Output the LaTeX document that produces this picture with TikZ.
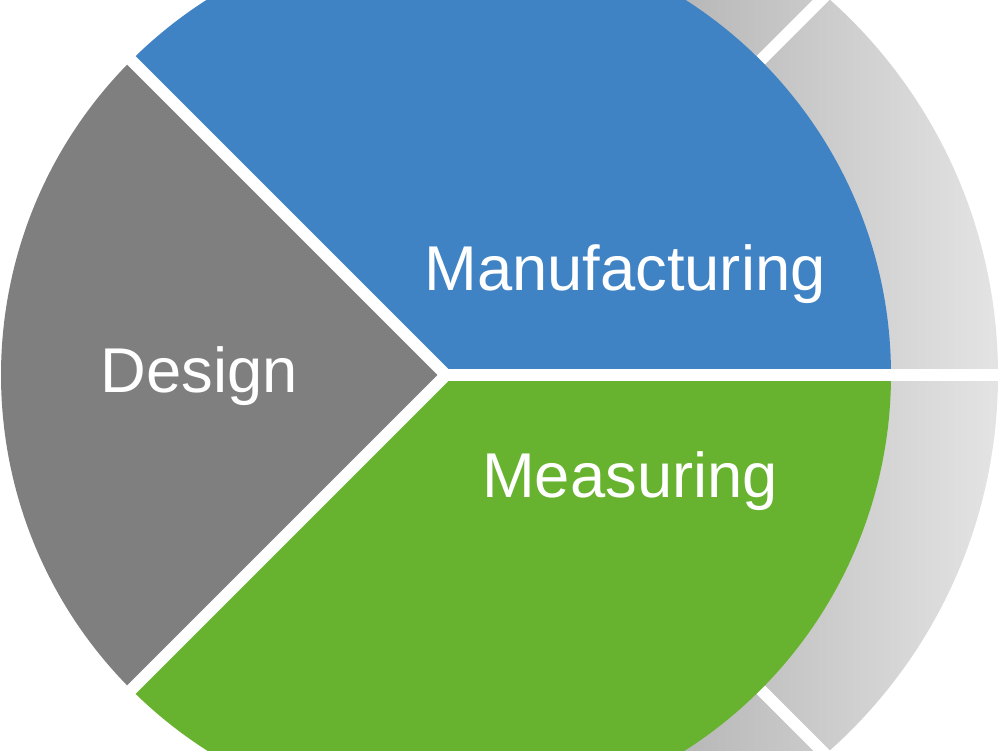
\documentclass[tikz,border=0pt]{standalone}
\usepackage{fontspec}
\setmainfont{Liberation Sans}
\usepackage{xcolor}
\definecolor{designgray}{HTML}{7F7F80}
\definecolor{manublue}{HTML}{3F83C5}
\definecolor{measgreen}{HTML}{67B22F}
\definecolor{ringdark}{HTML}{ACACAC}
\definecolor{ringlight}{HTML}{E4E4E4}

\begin{document}
\begin{tikzpicture}[x=0.01cm,y=0.01cm]
  \tikzset{sector/.style={draw=none}}
  \tikzset{gapline/.style={draw=white,line width=3.4pt}}
  \tikzset{sectorlabel/.style={font=\fontsize{18}{20}\selectfont,text=white,inner sep=0pt,anchor=base}}
  \useasboundingbox (0,0) rectangle (1000,750);
  \clip (0,0) rectangle (1000,750);
  \coordinate (c) at (446,375);
  \coordinate (r) at (495,375);
  % outer ring
  \begin{scope}
    \clip (446,0) rectangle (1000,750);
    \clip (r) circle (503);
    \shade[left color=ringdark,right color=ringlight] (600,0) rectangle (1000,750);
  \end{scope}
  \draw[gapline] (c) -- ++(45:700);
  \draw[gapline] (c) -- ++(-45:700);
  % pie
  \fill[sector,manublue] (c) -- ++(0:445) arc[start angle=0,end angle=135,radius=445] -- cycle;
  \fill[sector,designgray] (c) -- ++(135:445) arc[start angle=135,end angle=225,radius=445] -- cycle;
  \fill[sector,measgreen] (c) -- ++(225:445) arc[start angle=225,end angle=360,radius=445] -- cycle;
  \draw[gapline] (c) -- ++(0:700);
  \draw[gapline] (c) -- ++(135:600);
  \draw[gapline] (c) -- ++(225:600);
  \node[sectorlabel] (design) at (199,358) {Design};
  \node[sectorlabel] (manufacturing) at (625,460) {Manufacturing};
  \node[sectorlabel] (measuring) at (630,253) {Measuring};
\end{tikzpicture}
\end{document}
